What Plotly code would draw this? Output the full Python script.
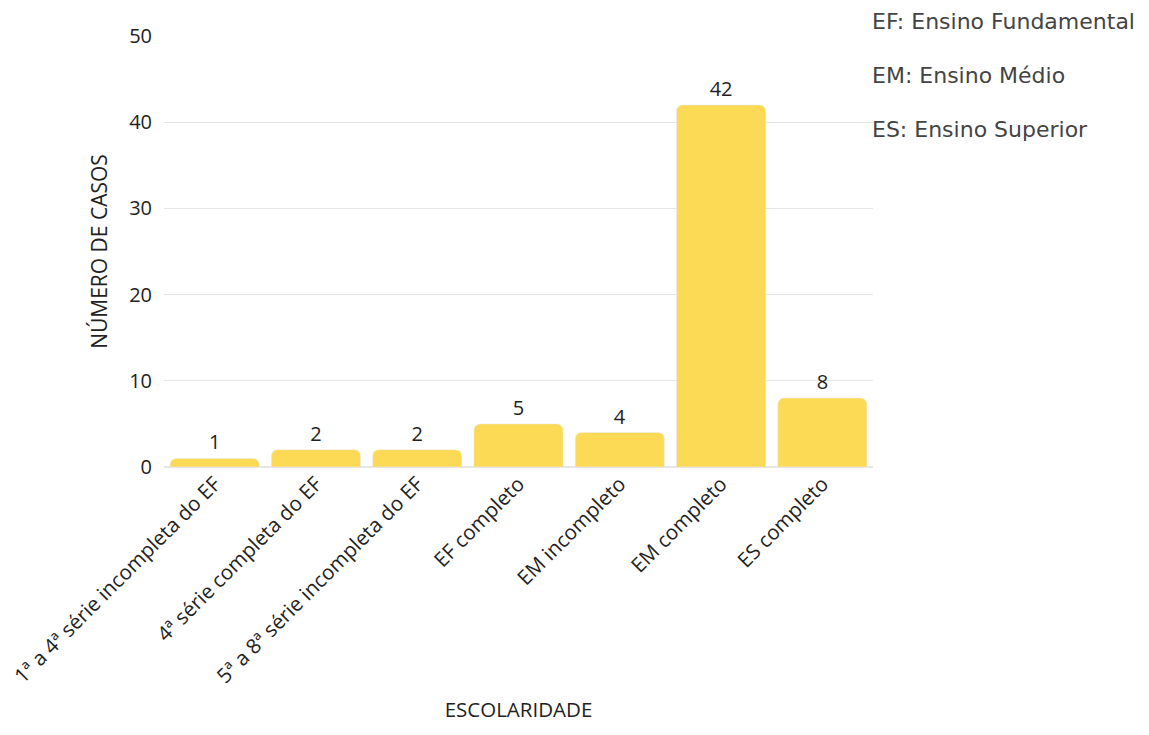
import plotly.graph_objects as go

categories = ["1ª a 4ª série incompleta do EF", "4ª série completa do EF",
              "5ª a 8ª série incompleta do EF", "EF completo", "EM incompleto",
              "EM completo", "ES completo"]
values = [1, 2, 2, 5, 4, 42, 8]
notes = ["EF: Ensino Fundamental", "EM: Ensino Médio", "ES: Ensino Superior"]

fig = go.Figure(go.Bar(
    x=categories, y=values, text=values, textposition="outside",
    textfont=dict(family="Open Sans", size=20, color="#222"),
    marker=dict(color="#FDDA55", cornerradius=6), cliponaxis=False,
))

for i, n in enumerate(notes):
    fig.add_annotation(text=n, xref="paper", yref="paper", x=0.996, y=1.0 + 0.0335 - i * 0.1253,
                       xanchor="left", yanchor="middle", showarrow=False,
                       font=dict(family="DejaVu Sans", size=22, color="#444"))

fig.update_layout(
    width=1149, height=735,
    margin=dict(l=164, r=276, t=36, b=268),
    plot_bgcolor="white", paper_bgcolor="white",
    bargap=0.12, showlegend=False,
    font=dict(family="Open Sans", size=20, color="#222"),
    xaxis=dict(tickangle=-45, title=dict(text="ESCOLARIDADE", font=dict(size=20.5)),
               tickfont=dict(size=20.5), showline=False, ticks="", automargin=False),
    yaxis=dict(range=[0, 50], dtick=10, gridcolor="#e6e6e6", zeroline=True, zerolinecolor="#e6e6e6",
               title=dict(text="NÚMERO DE CASOS", font=dict(size=21)),
               tickfont=dict(size=20), ticks="", ticklabelstandoff=11, automargin=False),
)
fig.write_html("out.html")
